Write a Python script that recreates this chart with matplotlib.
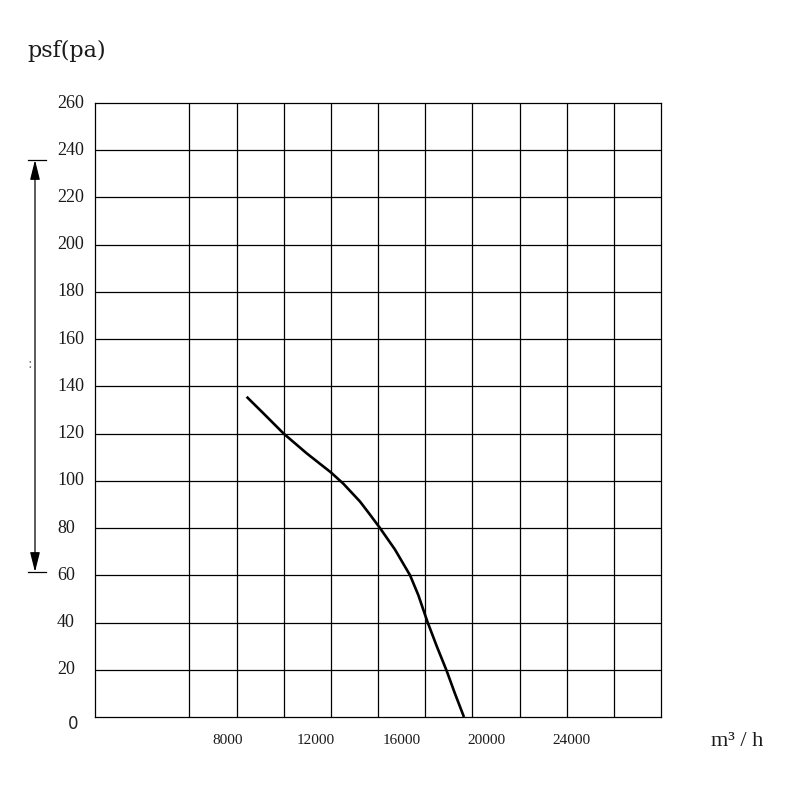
import matplotlib
matplotlib.use("Agg")
import matplotlib.pyplot as plt
import matplotlib.transforms as mtransforms

# ---- data ----
flow = [8430, 9210, 10000, 10970, 12000, 12530, 13240, 13660, 14085,
        14720, 15360, 15710, 16090, 16490, 16910, 17260, 17645]
pressure = [135.6, 127.9, 120, 111.7, 103.6, 98.8, 91.2, 85.7, 80,
            70.9, 60.0, 51.6, 40.5, 30.0, 19.6, 10, 0]
x_grid = [6000, 8000, 10000, 12000, 14000, 16000, 18000, 20000, 22000, 24000]
x_labels = [8000, 12000, 16000, 20000, 24000]
y_ticks = list(range(20, 260, 20))
y_labels = list(range(0, 261, 20))

fig = plt.figure(figsize=(8, 8), dpi=100)
ax = fig.add_axes([95/800, 1-717/800, (661-95)/800, (717-103)/800])
ax.set_xlim(2000, 26000)
ax.set_ylim(0, 260)

for xv in x_grid:
    ax.axvline(xv, color="black", lw=0.9)
for yv in y_ticks:
    ax.axhline(yv, color="black", lw=0.9)
for s in ax.spines.values():
    s.set_color("black")
    s.set_linewidth(0.9)
ax.set_xticks([])
ax.set_yticks([])

ax.plot(flow, pressure, color="black", lw=1.9, solid_joinstyle="round",
        solid_capstyle="butt")

serif = "Liberation Serif"
# y labels (left aligned at fixed pixel x)
blend_y = mtransforms.blended_transform_factory(fig.transFigure, ax.transData)
for v in y_labels:
    if v == 0:
        t = blend_y + mtransforms.ScaledTranslation(0, -7/100, fig.dpi_scale_trans)
        ax.text(73/800, v, "0", transform=t, ha="center", va="center",
                fontsize=12, family="DejaVu Sans", color="#222222")
    else:
        ax.text(57/800, v, str(v), transform=blend_y, ha="left", va="center",
                fontsize=13, family=serif, color="#1a1a1a")

# x labels
label_shift_px = [-9, -15, -23, -33, -42]
blend_x = mtransforms.blended_transform_factory(ax.transData, fig.transFigure)
for v, sh in zip(x_labels, label_shift_px):
    t = blend_x + mtransforms.ScaledTranslation(sh/100, 0, fig.dpi_scale_trans)
    ax.text(v, 1-741/800, str(v), transform=t, ha="center", va="center",
            fontsize=11, family=serif, color="#1a1a1a")

fig.text(711/800, 1-741/800, "m³ / h", ha="left", va="center",
         fontsize=16, family=serif, color="#1a1a1a")
fig.text(27/800, 1-51/800, "psf(pa)", ha="left", va="center",
         fontsize=16, family="DejaVu Serif", color="#1a1a1a")

# left dimension arrow
ytop, ybot = 1-160/800, 1-572/800
xa = 35/800
fig.add_artist(plt.Line2D([28/800, 46/800], [ytop, ytop], color="black", lw=0.9,
                          transform=fig.transFigure))
fig.add_artist(plt.Line2D([28/800, 46/800], [ybot, ybot], color="black", lw=0.9,
                          transform=fig.transFigure))
ann = matplotlib.patches.FancyArrowPatch((xa, ybot), (xa, ytop),
                                         arrowstyle="<|-|>,head_length=12,head_width=3",
                                         mutation_scale=1, color="black", lw=0.9,
                                         shrinkA=0, shrinkB=0,
                                         transform=fig.transFigure)
fig.add_artist(ann)
fig.text(30/800, 1-364/800, ":", ha="center", va="center", fontsize=10,
         color="#777777")

fig.savefig("out.png", dpi=100, facecolor="white")
